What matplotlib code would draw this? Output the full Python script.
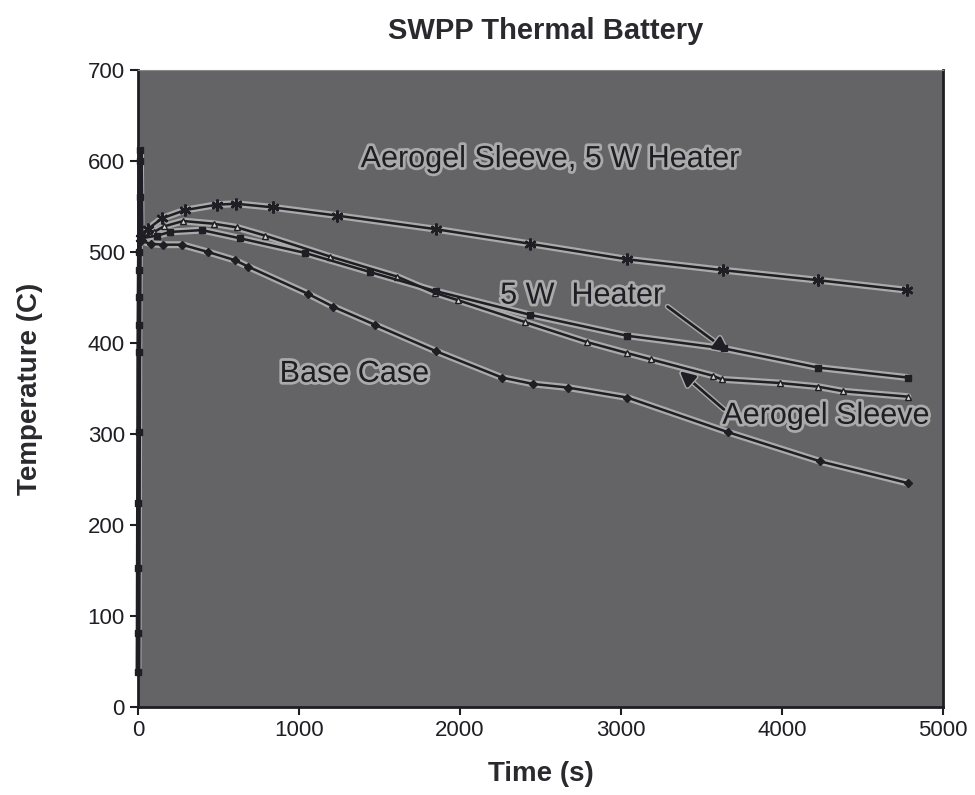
import matplotlib
matplotlib.use('Agg')
import matplotlib.pyplot as plt
import matplotlib.patheffects as pe

plt.rcParams['font.family'] = ['Liberation Sans', 'DejaVu Sans']

# heat-up transient at t ~ 0 (shared start of all runs)
startup_t = [0, 1, 2, 3, 4, 5, 6, 7, 8, 9, 10, 12, 15, 20]
startup_T = [38, 81, 153, 224, 302, 390, 420, 450, 480, 500, 560, 600, 612, 515]

base_t = [20, 80, 155, 273, 435, 602, 683, 1056, 1211, 1472, 1851, 2261, 2453, 2671, 3040, 3665, 4236, 4783]
base_T = [512, 509, 508, 508, 500, 491, 484, 454, 440, 420, 391, 362, 355, 351, 340, 302, 270, 246]

heater_t = [20, 120, 200, 398, 634, 1037, 1441, 1850, 2435, 3037, 3640, 4224, 4783]
heater_T = [515, 518, 522, 524, 515, 499, 478, 457, 431, 408, 394, 373, 362]

aero_t = [20, 100, 160, 280, 472, 615, 789, 1193, 1609, 1845, 1988, 2404, 2789, 3037, 3186,
          3571, 3627, 3988, 4224, 4379, 4783]
aero_T = [515, 522, 528, 534, 531, 527, 518, 495, 473, 455, 447, 423, 401, 389, 382,
          364, 360, 356, 352, 347, 341]

both_t = [20, 60, 150, 292, 491, 609, 839, 1236, 1851, 2435, 3037, 3634, 4224, 4776]
both_T = [515, 525, 537, 546, 552, 553, 549, 540, 525, 509, 492, 480, 469, 458]

ink = '#1e1e24'
glow = '#aaaaaa'
text_halo = [pe.withStroke(linewidth=4, foreground=glow)]

fig = plt.figure(figsize=(9.75, 7.95), dpi=100)
ax = fig.add_axes([0.1415, 0.1107, 0.8255, 0.8013])
ax.set_facecolor('#646466')


def series(t, T, **kw):
    # light glow under the line, like the scanned original
    ax.plot(t, T, color=glow, lw=5, zorder=3, solid_capstyle='round')
    ax.plot(t, T, color=ink, zorder=4, clip_on=False, **kw)


series(startup_t, startup_T, lw=3.5, marker='s', ms=5, mfc=ink, mec=ink)
series(base_t, base_T, lw=1.8, marker='D', ms=4.5, mfc=ink, mec=ink)
series(aero_t, aero_T, lw=1.8, marker='^', ms=5, mfc='#d8d8d8', mec=ink, mew=1)
series(heater_t, heater_T, lw=1.8, marker='s', ms=4.5, mfc=ink, mec=ink)
series(both_t, both_T, lw=1.8, marker=(6, 2, 0), ms=8.5, mec=ink, mew=1.8)

ax.text(2555, 602, 'Aerogel Sleeve, 5 W Heater', fontsize=22, color=ink, ha='center',
        va='center', path_effects=text_halo)
ax.text(2250, 452, '5 W  Heater', fontsize=22, color=ink, ha='left', va='center',
        path_effects=text_halo)
ax.text(880, 366, 'Base Case', fontsize=22, color=ink, ha='left', va='center',
        path_effects=text_halo)
ax.text(3630, 320, 'Aerogel Sleeve', fontsize=22, color=ink, ha='left', va='center',
        path_effects=text_halo)

arrow = dict(arrowstyle='-|>,head_length=0.9,head_width=0.45', color=ink, lw=2,
             shrinkA=0, shrinkB=0, path_effects=[pe.withStroke(linewidth=4, foreground=glow)])
ax.annotate('', xy=(3670, 390), xytext=(3290, 440), arrowprops=arrow)
ax.annotate('', xy=(3366, 369), xytext=(3640, 327), arrowprops=arrow)

ax.set_xlim(0, 5000)
ax.set_ylim(0, 700)
ax.set_xticks(range(0, 5001, 1000))
ax.set_yticks(range(0, 701, 100))
ax.tick_params(direction='out', length=6, width=1.5, labelsize=16, colors=ink)
for side in ['left', 'bottom', 'right']:
    ax.spines[side].set_linewidth(2)
    ax.spines[side].set_color(ink)
ax.spines['top'].set_color('#8a8a8a')

ax.set_xlabel('Time (s)', fontsize=20, fontweight='bold', color='#2a2a2e', labelpad=14)
ax.set_ylabel('Temperature (C)', fontsize=20, fontweight='bold', color='#2a2a2e', labelpad=32)
fig.suptitle('SWPP Thermal Battery', x=0.56, y=0.978, fontsize=21, fontweight='bold',
             color='#2a2a2e')

fig.savefig('out.png', dpi=100)
